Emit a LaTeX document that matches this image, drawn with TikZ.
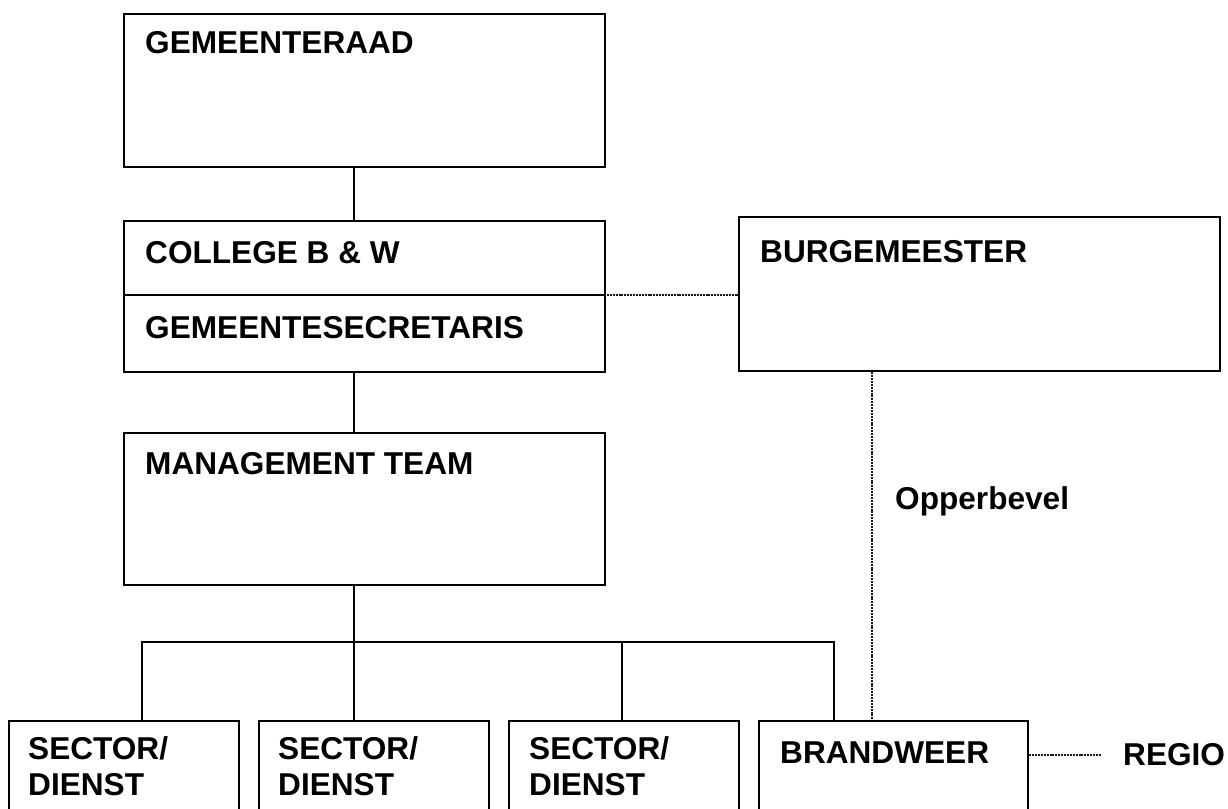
\documentclass[tikz,border=0pt]{standalone}
\usepackage{fontspec}
\setmainfont{Liberation Sans}
\begin{document}
\begin{tikzpicture}[x=1pt,y=-1pt,
  box/.style={draw, line width=2.2pt, anchor=north west, inner sep=0pt},
  lbl/.style={anchor=base west, inner sep=0pt, font=\fontsize{31.6}{36}\selectfont\bfseries},
  solidline/.style={line width=2.2pt},
  dotline/.style={line width=1.8pt, black!90, dash pattern=on 2pt off 0.9pt}]
\useasboundingbox (0,0) rectangle (1228,808);
\clip (0,0) rectangle (1228,808);
% boxes
\node[box, minimum width=481pt, minimum height=153pt] (gr) at (123,13) {};
\node[box, minimum width=481pt, minimum height=151pt] (col) at (123,220) {};
\node[box, minimum width=481pt, minimum height=152pt] (mt) at (123,432) {};
\node[box, minimum width=481pt, minimum height=154pt] (bm) at (738,216) {};
\node[box, minimum width=230pt, minimum height=120pt] (s1) at (8,720) {};
\node[box, minimum width=230pt, minimum height=120pt] (s2) at (258,720) {};
\node[box, minimum width=230pt, minimum height=120pt] (s3) at (508,720) {};
\node[box, minimum width=269pt, minimum height=120pt] (bw) at (758,720) {};
% divider in college box
\coordinate (divl) at (123,295);
\coordinate (divr) at (604,295);
\draw[solidline] (divl) -- (divr);
% texts
\node[lbl] (tgr) at (145,54) {GEMEENTERAAD};
\node[lbl] (tcol) at (145,263) {COLLEGE B \& W};
\node[lbl] (tgs) at (145,338) {GEMEENTESECRETARIS};
\node[lbl] (tmt) at (145,474) {MANAGEMENT TEAM};
\node[lbl] (tbm) at (760,262) {BURGEMEESTER};
\node[lbl] (ts1a) at (28,759) {SECTOR/};
\node[lbl] (ts1b) at (28,795) {DIENST};
\node[lbl] (ts2a) at (278,759) {SECTOR/};
\node[lbl] (ts2b) at (278,795) {DIENST};
\node[lbl] (ts3a) at (529,759) {SECTOR/};
\node[lbl] (ts3b) at (529,795) {DIENST};
\node[lbl] (tbw) at (780,763) {BRANDWEER};
\node[lbl] (top) at (895,509) {Opperbevel};
\node[lbl] (treg) at (1123,765) {REGIO};
% solid connectors
\coordinate (bar) at (354,642);
\draw[solidline] (354,0 |- gr.south) -- (354,0 |- col.north);
\draw[solidline] (354,0 |- col.south) -- (354,0 |- mt.north);
\draw[solidline] (354,0 |- mt.south) -- (bar);
\draw[solidline] (142,0 |- s1.north) -- (142,642) -- (834,642) -- (834,0 |- bw.north);
\draw[solidline] (bar) -- (354,0 |- s2.north);
\draw[solidline] (622,642) -- (622,0 |- s3.north);
% dotted connectors
\draw[dotline] (divr) -- (bm.west |- divr);
\draw[dotline] (872,0 |- bm.south) -- (872,0 |- bw.north);
\coordinate (regend) at (1101,755);
\draw[dotline] (bw.east |- regend) -- (regend);
\end{tikzpicture}
\end{document}
